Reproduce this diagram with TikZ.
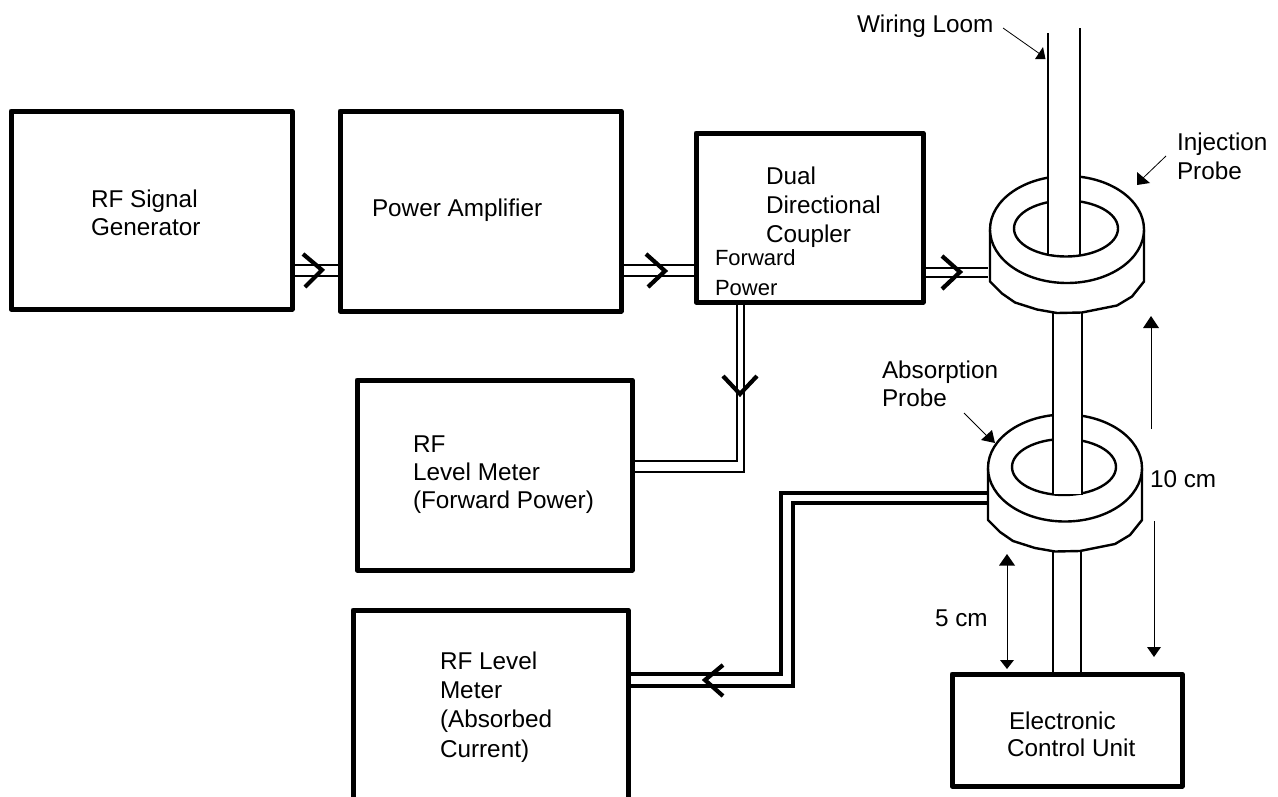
\documentclass[tikz,border=0pt]{standalone}
\usepackage{fontspec}
\setmainfont{Liberation Sans}
\tikzset{
  x=1pt,y=-1pt,
  blk/.style={draw=black,line width=5pt,line join=round,rectangle,inner sep=0pt,outer sep=0pt,fill=white},
  lab/.style={font=\fontsize{24.3}{#1}\selectfont,align=left,anchor=base west,inner sep=0pt,outer sep=0pt,text=black},
  lab/.default=28,
  smalllab/.style={font=\fontsize{22}{30}\selectfont,align=left,anchor=base west,inner sep=0pt,outer sep=0pt,text=black},
  feed/.style={line width=2pt,line join=miter},
  cablethick/.style={line width=4pt,line join=miter},
  chev/.style={line width=4.2pt,line join=miter},
  ring/.style={line width=2.4pt,draw=black,fill=white,line join=round},
  wire/.style={line width=2.5pt},
  note/.style={line width=0.8pt},
  head/.style={fill=black,draw=none},
  pics/toroid/.style={code={
    \path[ring] (-77,0) -- (-77,52) -- (-65,64) -- (-52,73) -- (-30,80) -- (-10,83.5) -- (15,83) -- (50,76) -- (65,67) -- (77,52) -- (77,0) -- cycle;
    \path[ring] (0,0) ellipse [x radius=77,y radius=53.5];
    \path[ring] (-1,-1) ellipse [x radius=52,y radius=28];
  }}
}
\begin{document}
\begin{tikzpicture}
\useasboundingbox (0,0) rectangle (1278,796);
\clip (0,0) rectangle (1278,796);

% blocks
\node[blk,minimum width=281pt,minimum height=198pt] (gen) at (151.5,210) {};
\node[blk,minimum width=281pt,minimum height=200pt] (amp) at (480.5,211) {};
\node[blk,minimum width=227pt,minimum height=169pt] (cpl) at (809.5,217.5) {};
\node[blk,minimum width=275pt,minimum height=190pt] (fwm) at (494.5,475) {};
\node[blk,minimum width=275pt,minimum height=220pt] (abm) at (490.5,720) {};
\node[blk,minimum width=230pt,minimum height=112pt] (ecu) at (1067,730) {};

% probes and levels
\coordinate (inj) at (1067,229.5);
\coordinate (abp) at (1065,468);
\coordinate (injedge) at (988,228);
\coordinate (abpedge) at (987,468);
\coordinate (injbot) at (1067,312);
\coordinate (abptop) at (1065,416);
\coordinate (abpbot) at (1065,550);
\coordinate (y265) at (0,265);
\coordinate (y276) at (0,276);
\coordinate (y268) at (0,268);
\coordinate (y276b) at (0,277);
\coordinate (y461) at (0,461);
\coordinate (y472) at (0,472);
\coordinate (x737) at (737,0);
\coordinate (x744) at (744,0);
\coordinate (y493) at (0,493);
\coordinate (y503) at (0,503);
\coordinate (y674) at (0,674);
\coordinate (y686) at (0,686);
\coordinate (x781) at (781,0);
\coordinate (x793) at (793,0);
\coordinate (x1053) at (1053,0);
\coordinate (x1082) at (1082,0);
\coordinate (x1081) at (1081,0);

% wire between probes and to ECU
\draw[wire] (x1053 |- injbot) -- (x1053 |- abpbot);
\draw[wire] (x1082 |- injbot) -- (x1082 |- abpbot);
\draw[wire] (x1053 |- abpbot) -- (x1053 |- ecu.north);
\draw[wire] (x1081 |- abpbot) -- (x1081 |- ecu.north);

% feeds
\draw[feed] (gen.east |- y265) -- (amp.west |- y265);
\draw[feed] (gen.east |- y276) -- (amp.west |- y276);
\draw[feed] (amp.east |- y265) -- (cpl.west |- y265);
\draw[feed] (amp.east |- y276) -- (cpl.west |- y276);
\draw[feed] (cpl.east |- y268) -- (injedge |- y268);
\draw[feed] (cpl.east |- y276b) -- (injedge |- y276b);
\draw[feed] (x737 |- cpl.south) -- (x737 |- y461) -- (fwm.east |- y461);
\draw[feed] (x744 |- cpl.south) -- (x744 |- y472) -- (fwm.east |- y472);
\draw[cablethick] (abpedge |- y493) -- (x781 |- y493) -- (x781 |- y674) -- (abm.east |- y674);
\draw[cablethick] (abpedge |- y503) -- (x793 |- y503) -- (x793 |- y686) -- (abm.east |- y686);

% chevrons
\coordinate (c1a) at (303,254); \coordinate (c1t) at (322,270); \coordinate (c1b) at (305,287);
\coordinate (c2a) at (646,254); \coordinate (c2t) at (665,271); \coordinate (c2b) at (648,287);
\coordinate (c3a) at (942,256); \coordinate (c3t) at (960,272); \coordinate (c3b) at (942,289);
\coordinate (c4a) at (723,376); \coordinate (c4t) at (740,394); \coordinate (c4b) at (757,376);
\coordinate (c5a) at (723,665); \coordinate (c5t) at (705,680); \coordinate (c5b) at (723,696);
\draw[chev] (c1a) -- (c1t) -- (c1b);
\draw[chev] (c2a) -- (c2t) -- (c2b);
\draw[chev] (c3a) -- (c3t) -- (c3b);
\draw[chev] (c4a) -- (c4t) -- (c4b);
\draw[chev] (c5a) -- (c5t) -- (c5b);

% probes
\pic at (inj) {toroid};
\pic at (abp) {toroid};

% loom over the injection probe
\coordinate (loomL) at (1048,33);
\coordinate (loomR) at (1080,28);
\fill[white] (1048,170) rectangle (1080,254);
\draw[wire] (loomL) -- (1048,255);
\draw[wire] (loomR) -- (1080,255);
% wire over the absorption probe
\fill[white] (1053,405) rectangle (1082,494);
\draw[wire] (x1053 |- injbot) -- (1053,495);
\draw[wire] (x1082 |- injbot) -- (1082,495);

% text
\node[lab=28] (tgen) at (91,235) {RF Signal\\Generator};
\node[lab=28] (tamp) at (372,216) {Power Amplifier};
\node[lab=28.7] (tcpl) at (766,242) {Dual\\Directional\\Coupler};
\node[smalllab] (tfwd) at (715,295) {Forward\\Power};
\node[lab=28] (tfwm) at (413,508) {RF\\Level Meter\\(Forward Power)};
\node[lab=29.3] (tabm) at (440,757) {RF Level\\Meter\\(Absorbed\\Current)};
\node[lab=27] (tecu) at (1009,756) {Electronic\\[0pt]\hspace*{-2pt}Control Unit};
\node[lab=28] (tloom) at (857,32) {Wiring Loom};
\node[lab=29] (tinj) at (1177,179) {Injection\\Probe};
\node[lab=28] (tabp) at (882,406) {Absorption\\Probe};
\node[lab=28] (tten) at (1150,487) {10 cm};
\node[lab=28] (tfive) at (935,626) {5 cm};

% pointers with their triangular heads
\coordinate (pa) at (1003,28); \coordinate (pb) at (1040,54);
\coordinate (pc) at (1166,156); \coordinate (pd) at (1142,179);
\coordinate (pe) at (964,413); \coordinate (pf) at (988,437);
\draw[note] (pa) -- (pb);
\draw[note] (pc) -- (pd);
\draw[note] (pe) -- (pf);
\fill[head] (1035,59) -- (1045.5,59) -- (1043,47) -- cycle;
\fill[head] (1137,172) -- (1137,185) -- (1150,183) -- cycle;
\fill[head] (981,440) -- (995,443) -- (992,430) -- cycle;

% dimension arrows
\coordinate (d1a) at (1151,429); \coordinate (d1b) at (1151,326);
\coordinate (d2a) at (1154,521); \coordinate (d2b) at (1154,648);
\coordinate (d3a) at (1007,563); \coordinate (d3b) at (1007,660);
\draw[note,line width=0.9pt] (d1a) -- (d1b);
\draw[note,line width=0.9pt] (d2a) -- (d2b);
\draw[note,line width=0.9pt] (d3a) -- (d3b);
\fill[head] (1151,316) -- (1143,328) -- (1159,328) -- cycle;
\fill[head] (1154,657) -- (1147,647) -- (1161,647) -- cycle;
\fill[head] (1007,554) -- (999,565.5) -- (1015,565.5) -- cycle;
\fill[head] (1007,669) -- (1000,660) -- (1014,660) -- cycle;
\end{tikzpicture}
\end{document}
